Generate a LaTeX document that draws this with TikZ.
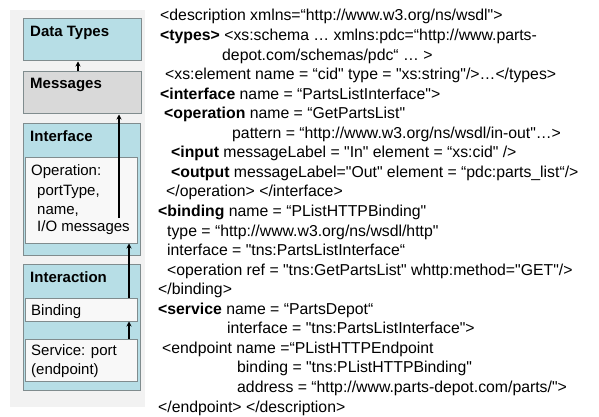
\documentclass[tikz,border=0pt]{standalone}
\usepackage{fontspec}
\setmainfont{Liberation Sans}[Ligatures=TeXOff]
\usepackage{tikz}
\usetikzlibrary{arrows.meta,positioning,fit,calc}
\definecolor{wcyan}{RGB}{183,222,230}
\definecolor{wgray}{RGB}{217,217,217}
\definecolor{panel}{RGB}{242,242,242}
\definecolor{frame}{RGB}{128,140,142}
\definecolor{inner}{RGB}{248,248,248}

\begin{document}
\begin{tikzpicture}[x=1pt,y=-1pt,
  box/.style={draw=frame,line width=1pt,inner sep=0pt},
  head/.style={anchor=base west,inner sep=0pt,font=\fontsize{15}{18}\selectfont\bfseries},
  txt/.style={anchor=base west,inner sep=0pt,font=\fontsize{15}{18}\selectfont},
  code/.style={anchor=base west,inner sep=0pt,font=\fontsize{15.8}{19.5}\selectfont},
  arr/.style={-{Stealth[length=5pt,width=5pt]},line width=1.2pt}
]
\useasboundingbox (0,0) rectangle (599,417);
% Left panel: WSDL component stack
\fill[panel] (10,10) rectangle (145,407);
\node[box,fill=wcyan,fit={(23,19) (141,61)}]   (dtypes) {};
\node[box,fill=wgray,fit={(23,72) (141,114)}]  (msgs)   {};
\node[box,fill=wcyan,fit={(23,123) (140,255)}] (iface)  {};
\node[box,fill=inner,fit={(25,157) (137,243)}] (oper)   {};
\node[box,fill=wcyan,fit={(23,264) (140,390)}] (inter)  {};
\node[box,fill=inner,fit={(25,298) (137,321)}] (bind)   {};
\node[box,fill=inner,fit={(25,339) (137,381)}] (serv)   {};

\node[head] at (30,37)  {Data Types};
\node[head] at (30,89)  {Messages};
\node[head] at (30,141) {Interface};
\node[txt]  at (31,175) {Operation:};
\node[txt]  at (37,195) {portType,};
\node[txt]  at (37,214) {name,};
\node[txt]  at (37,231) {I/O messages};
\node[head] at (30,282) {Interaction};
\node[txt]  at (31,315) {Binding};
\node[txt]  at (31,355) {Service: port};
\node[txt]  at (31,374) {(endpoint)};

% References between components
\coordinate (optail) at (119,218);
\draw[arr] ([xshift=-4pt]msgs.north) -- ([xshift=-4pt]dtypes.south);
\draw[arr] (optail) -- (optail |- msgs.south);
\draw[arr] ([xshift=48pt]bind.north) -- ([xshift=48pt]oper.south);
\draw[arr] ([xshift=48pt]serv.north) -- ([xshift=48pt]bind.south);

% Right side: WSDL listing, one node per line
\node[code] (l1)  at (160,21)     {<description xmlns=“http://www.w3.org/ns/wsdl">};
\node[code] (l2)  at (160,40.55)  {\textbf{<types>} <xs:schema … xmlns:pdc=“http://www.parts-};
\node[code] (l3)  at (222,60.1)   {depot.com/schemas/pdc“ … >};
\node[code] (l4)  at (165,79.65)  {<xs:element name = “cid" type = "xs:string"/>…</types>};
\node[code] (l5)  at (160,99.2)   {\textbf{<interface} name = “PartsListInterface">};
\node[code] (l6)  at (164,118.75) {\textbf{<operation} name = “GetPartsList"};
\node[code] (l7)  at (232,138.3)  {pattern = “http://www.w3.org/ns/wsdl/in-out"…>};
\node[code] (l8)  at (171,157.85) {\textbf{<input} messageLabel = "In" element = “xs:cid" />};
\node[code] (l9)  at (171,177.4)  {\textbf{<output} messageLabel="Out" element = “pdc:parts\_list“/>};
\node[code] (l10) at (166,196.95) {</operation> </interface>};
\node[code] (l11) at (158,216.5)  {\textbf{<binding} name = “PListHTTPBinding"};
\node[code] (l12) at (167,236.05) {type = “http://www.w3.org/ns/wsdl/http"};
\node[code] (l13) at (167,255.6)  {interface = "tns:PartsListInterface“};
\node[code] (l14) at (167,275.15) {<operation ref = "tns:GetPartsList" whttp:method="GET"/>};
\node[code] (l15) at (158,294.7)  {</binding>};
\node[code] (l16) at (158,314.25) {\textbf{<service} name = “PartsDepot“};
\node[code] (l17) at (227,333.8)  {interface = "tns:PartsListInterface">};
\node[code] (l18) at (162,353.35) {<endpoint name =“PListHTTPEndpoint};
\node[code] (l19) at (237,372.9)  {binding = "tns:PListHTTPBinding"};
\node[code] (l20) at (237,392.45) {address = “http://www.parts-depot.com/parts/">};
\node[code] (l21) at (158,412)    {</endpoint> </description>};
\end{tikzpicture}
\end{document}
